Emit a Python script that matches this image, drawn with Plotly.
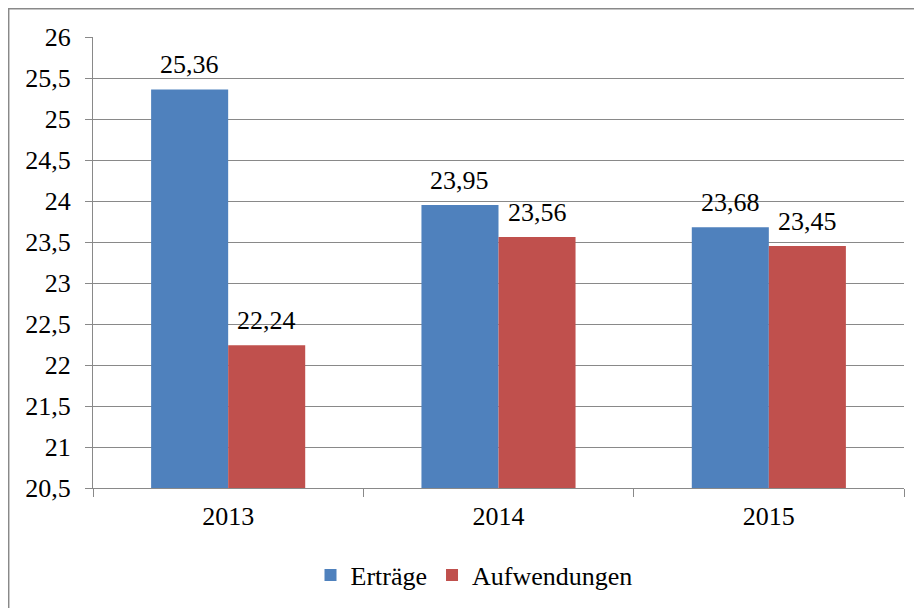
import plotly.graph_objects as go

years = ["2013", "2014", "2015"]
ertraege = [25.36, 23.95, 23.68]
aufwendungen = [22.24, 23.56, 23.45]
series_names = ["Erträge", "Aufwendungen"]
colors = ["#4F81BD", "#C0504D"]

FONT = "Liberation Serif"
FS = 26

fig = go.Figure()
for name, vals, col in zip(series_names, [ertraege, aufwendungen], colors):
    fig.add_trace(go.Bar(
        x=years, y=vals, name=name, marker=dict(color=col, line=dict(width=0)),
    ))

# page has 8px body margin; figure coordinates are offset by 8px
OFF = 8
W, H = 922 - OFF, 608 - OFF
L, T = 93 - OFF, 37 - OFF
R = 922 - 904
B = 608 - 488
pw, ph = W - L - R, H - T - B

GAP = 0.43
cat_w = pw / len(years)
bar_w = cat_w * (1 - GAP) / 2
annotations = []
for si, vals in enumerate([ertraege, aufwendungen]):
    shift = (si - 0.5) * bar_w
    for ci, v in enumerate(vals):
        annotations.append(dict(
            x=ci, y=v, xref="x", yref="y", text=f"{v:.2f}".replace(".", ","),
            showarrow=False, xshift=shift, yanchor="middle", yshift=25,
            font=dict(family=FONT, size=FS, color="black")))

fig.update_layout(
    width=W, height=H,
    margin=dict(l=L, r=R, t=T, b=B, autoexpand=False),
    paper_bgcolor="white", plot_bgcolor="white",
    barmode="group", bargap=GAP, bargroupgap=0,
    font=dict(family=FONT, size=FS, color="black"),
    separators=",.",
    showlegend=True,
    legend=dict(orientation="h", x=(474 - 93) / pw, xanchor="center",
                y=(488 - 575) / ph, yanchor="middle",
                font=dict(family=FONT, size=FS, color="black"), itemwidth=30,
                traceorder="normal"),
    xaxis=dict(type="category", range=[-0.5, 2.5],
               showline=True, linecolor="#898989", linewidth=1,
               ticks="outside", tickson="boundaries", ticklen=8, tickcolor="#898989",
               ticklabelstandoff=5,
               tickfont=dict(family=FONT, size=FS, color="black"), showgrid=False),
    yaxis=dict(range=[20.5, 26], dtick=0.5, tick0=20.5,
               showline=True, linecolor="#898989", linewidth=1,
               ticks="outside", ticklen=7, tickcolor="#898989",
               ticklabelstandoff=9,
               showgrid=True, gridcolor="#898989", gridwidth=1,
               tickfont=dict(family=FONT, size=FS, color="black"), zeroline=False),
    annotations=annotations,
    shapes=[dict(type="rect", xref="paper", yref="paper",
                 x0=(0.7 - L) / pw, x1=(W + 20 - L) / pw,
                 y0=(ph + 200) / -ph, y1=(ph + T - 0.7) / ph,
                 line=dict(color="#898989", width=1.5), fillcolor="rgba(0,0,0,0)", layer="below")],
)

fig.write_html("out.html")
